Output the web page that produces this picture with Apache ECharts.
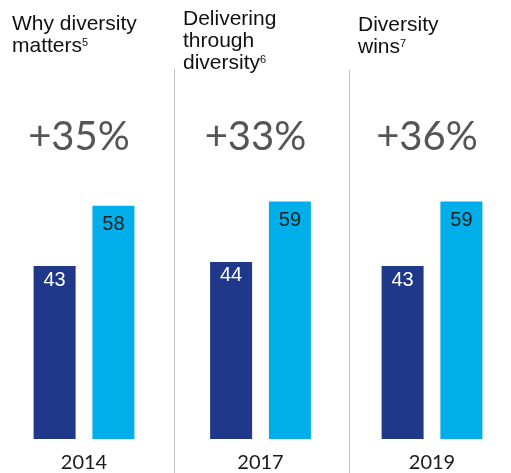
<!DOCTYPE html>
<html>
<head>
<meta charset="utf-8">
<script src="https://cdn.jsdelivr.net/npm/echarts@6/dist/echarts.min.js"></script>
<style>
  html, body { margin: 0; padding: 0; background: #fff; }
</style>
</head>
<body>
<div id="chart" style="width: 511px; height: 473px"></div>
<script>
// data
const years = ["2014", "2017", "2019"];
const leastDiverse = [43, 44, 43];
const mostDiverse = [58, 59, 59];
const uplift = ["+35%", "+33%", "+36%"];
const headings = [
  "Why diversity\nmatters{sup|5}",
  "Delivering\nthrough\ndiversity{sup|6}",
  "Diversity\nwins{sup|7}",
];

// layout of the three panels
const centers = [84, 260.5, 432];
const headingPos = [[12, 13.5], [183, 8.5], [358, 14.5]];

var myChart = echarts.init(document.getElementById("chart"));

var grids = [], xAxes = [], yAxes = [], series = [], titles = [], graphics = [];

years.forEach(function (yr, i) {
  grids.push({ left: centers[i] - 60, width: 120, top: 197.6, bottom: 33 });
  xAxes.push({
    gridIndex: i,
    type: "category",
    data: [yr],
    axisLine: { show: false },
    axisTick: { show: false },
    axisLabel: {
      margin: 14,
      fontFamily: "Lato",
      fontSize: 20,
      color: "#1a1a1a",
    },
  });
  yAxes.push({
    gridIndex: i,
    type: "value",
    min: 0,
    max: 60,
    show: false,
    splitLine: { show: false },
  });
  series.push({
    type: "bar",
    xAxisIndex: i,
    yAxisIndex: i,
    barWidth: 42,
    barGap: "40%",
    itemStyle: { color: "#1f388a" },
    label: {
      show: true,
      position: "insideTop",
      distance: 4,
      color: "#fff",
      fontFamily: "Liberation Sans",
      fontSize: 20,
    },
    data: [leastDiverse[i]],
  });
  series.push({
    type: "bar",
    xAxisIndex: i,
    yAxisIndex: i,
    barWidth: 42,
    barGap: "40%",
    itemStyle: { color: "#00aeea" },
    label: {
      show: true,
      position: "insideTop",
      distance: 9,
      color: "#222",
      fontFamily: "Liberation Sans",
      fontSize: 20,
    },
    data: [mostDiverse[i]],
  });
  titles.push({
    text: headings[i],
    left: headingPos[i][0],
    top: headingPos[i][1],
    padding: 0,
    textStyle: {
      fontFamily: "Liberation Sans",
      fontSize: 21,
      fontWeight: "normal",
      color: "#111",
      lineHeight: 22,
      rich: {
        sup: {
          fontSize: 11,
          lineHeight: 11,
          verticalAlign: "bottom",
          padding: [0, 0, 9, 0],
          color: "#111",
          fontFamily: "Liberation Sans",
        },
      },
    },
  });
  graphics.push({
    type: "text",
    x: centers[i] - 5,
    y: 137,
    style: {
      text: uplift[i],
      font: "40px Lato",
      fill: "#555",
      textAlign: "center",
      textVerticalAlign: "middle",
    },
  });
});

// separators between panels
graphics.push({
  type: "line",
  shape: { x1: 174.5, y1: 69, x2: 174.5, y2: 473 },
  style: { stroke: "#c4c4c4", lineWidth: 1 },
});
graphics.push({
  type: "line",
  shape: { x1: 349.5, y1: 70, x2: 349.5, y2: 473 },
  style: { stroke: "#c4c4c4", lineWidth: 1 },
});

var option = {
  animation: false,
  title: titles,
  grid: grids,
  xAxis: xAxes,
  yAxis: yAxes,
  series: series,
  graphic: graphics,
};

myChart.setOption(option);
</script>
</body>
</html>
